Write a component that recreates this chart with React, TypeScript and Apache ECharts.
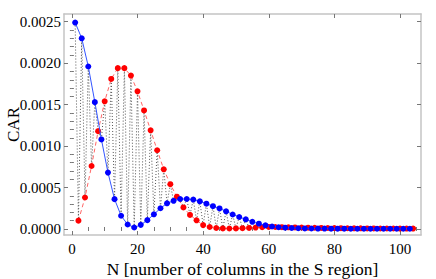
import React, { useEffect, useRef } from "react";
import * as echarts from "echarts";

const blueN = [1, 3, 5, 7, 9, 11, 13, 15, 17, 19, 21, 23, 25, 27, 29, 31, 33, 35, 37, 39, 41, 43, 45, 47, 49, 51, 53, 55, 57, 59, 61, 63, 65, 67, 69, 71, 73, 75, 77, 79, 81, 83, 85, 87, 89, 91, 93, 95, 97, 99, 101, 103];
const blueCAR = [
  0.00249, 0.0023, 0.00196, 0.00153, 0.00108, 0.00068, 0.00036, 0.00016, 0.000054, 0.000018,
  0.00005, 0.000107, 0.000177, 0.00025, 0.00031, 0.00034, 0.000362, 0.000362, 0.000355, 0.000334,
  0.000305, 0.000275, 0.000248, 0.000213, 0.000175, 0.000145, 0.000116, 0.000087, 0.000064, 0.000044,
  0.00003, 0.000021, 0.000016, 0.000012, 0.000009, 0.000007, 0.000006, 0.000005, 0.000005, 0.000004,
  0.000004, 0.000004, 0.000003, 0.000003, 0.000003, 0.000003, 0.000003, 0.000003, 0.000003, 0.000003,
  0.000003, 0.000003,
];
const redN = [2, 4, 6, 8, 10, 12, 14, 16, 18, 20, 22, 24, 26, 28, 30, 32, 34, 36, 38, 40, 42, 44, 46, 48, 50, 52, 54, 56, 58, 60, 62, 64, 66, 68, 70, 72, 74, 76, 78, 80, 82, 84, 86, 88, 90, 92, 94, 96, 98, 100, 102, 104];
const redCAR = [
  0.0001, 0.00038, 0.00076, 0.00118, 0.00154, 0.00181, 0.00194, 0.00194, 0.00185, 0.00166,
  0.00143, 0.00119, 0.00095, 0.00072, 0.00054, 0.00039, 0.00026, 0.00017, 0.000105, 0.000047,
  0.000024, 0.000012, 0.000007, 0.000006, 0.000007, 0.00001, 0.000013, 0.000017, 0.000021, 0.000025,
  0.000024, 0.000022, 0.00002, 0.000019, 0.000018, 0.000016, 0.000015, 0.000013, 0.000012, 0.000011,
  0.00001, 0.000009, 0.000008, 0.000008, 0.000007, 0.000007, 0.000006, 0.000006, 0.000006, 0.000005,
  0.000005, 0.000005,
];
const xMajor = [0, 20, 40, 60, 80, 100];
const xMinor = [5, 10, 15, 25, 30, 35, 45, 50, 55, 65, 70, 75, 85, 90, 95, 105];
const yMajor = [0, 0.0005, 0.001, 0.0015, 0.002, 0.0025];
const yMinor = [0.0001, 0.0002, 0.0003, 0.0004, 0.0006, 0.0007, 0.0008, 0.0009, 0.0011, 0.0012, 0.0013, 0.0014, 0.0016, 0.0017, 0.0018, 0.0019, 0.0021, 0.0022, 0.0023, 0.0024];
const xTitle = "N [number of columns in the S region]";
const yTitle = "CAR";

const FONT = "Liberation Serif";
const XMIN = -2.4, XMAX = 106.4, YMIN = -0.0000724, YMAX = 0.002593;

export default function App() {
  const ref = useRef<HTMLDivElement>(null);
  useEffect(() => {
    if (!ref.current) return;
    const chart = echarts.init(ref.current, null, { renderer: "svg" });
    const blue = blueN.map((n, i) => [n, blueCAR[i]]);
    const red = redN.map((n, i) => [n, redCAR[i]]);
    const all: number[][] = [];
    for (let i = 0; i < blue.length; i++) {
      all.push(blue[i]);
      if (red[i]) all.push(red[i]);
    }
    const rich = { t: { fontFamily: FONT, fontSize: 15, color: "#000" } };
    const frameLine = { show: true, onZero: false, lineStyle: { color: "#c4c4c4", width: 1.5 } };
    const mkX = (pos: string, vals: number[], len: number, labels: boolean, line: boolean, name?: string) => ({
      type: "value", min: XMIN, max: XMAX, position: pos,
      axisLine: line ? frameLine : { show: false },
      axisTick: { show: true, inside: true, length: len, customValues: vals, lineStyle: { color: "#777", width: 1 } },
      axisLabel: labels ? {
        show: true, customValues: vals, color: "#000", fontFamily: FONT, fontSize: 15, margin: 6,
        formatter: (v: number) => `{t|${String(v)}}`, rich,
      } : { show: false },
      splitLine: { show: false },
      name: name, nameLocation: "middle", nameGap: 25, nameMoveOverlap: false,
      nameTextStyle: { color: "#000", fontFamily: FONT, fontSize: 17.5 },
    });
    const mkY = (pos: string, vals: number[], len: number, labels: boolean, line: boolean, name?: string) => ({
      type: "value", min: YMIN, max: YMAX, position: pos,
      axisLine: line ? frameLine : { show: false },
      axisTick: { show: true, inside: true, length: len, customValues: vals, lineStyle: { color: "#777", width: 1 } },
      axisLabel: labels ? {
        show: true, customValues: vals, color: "#000", fontFamily: FONT, fontSize: 15, margin: 3,
        formatter: (v: number) => `{t|${v.toFixed(4)}}`, rich,
      } : { show: false },
      splitLine: { show: false },
      name: name, nameLocation: "middle", nameGap: 42, nameRotate: 90, nameMoveOverlap: false,
      nameTextStyle: { color: "#000", fontFamily: FONT, fontSize: 17 },
    });
    chart.setOption({
      animation: false,
      backgroundColor: "#fff",
      textStyle: { fontFamily: FONT },
      grid: { left: 64, top: 14, width: 357, height: 221, containLabel: false, outerBoundsMode: "none" },
      xAxis: [
        mkX("bottom", xMajor, 4, true, true, xTitle),
        mkX("bottom", xMinor, 2, false, false),
        mkX("top", xMajor, 4, false, true),
        mkX("top", xMinor, 2, false, false),
      ],
      yAxis: [
        mkY("left", yMajor, 4, true, true, yTitle),
        mkY("left", yMinor, 2, false, false),
        mkY("right", yMajor, 4, false, true),
        mkY("right", yMinor, 2, false, false),
      ],
      series: [
        {
          type: "line", data: all, xAxisIndex: 0, yAxisIndex: 0, showSymbol: false, symbol: "none",
          lineStyle: { color: "#555", width: 1, type: [1, 2] }, z: 1,
        },
        {
          type: "line", data: blue, xAxisIndex: 0, yAxisIndex: 0, symbol: "circle", symbolSize: 6,
          itemStyle: { color: "#0000ff" }, lineStyle: { color: "#3355ff", width: 1 }, z: 3,
        },
        {
          type: "line", data: red, xAxisIndex: 0, yAxisIndex: 0, symbol: "circle", symbolSize: 6,
          itemStyle: { color: "#ff0000" }, lineStyle: { color: "#ff6666", width: 1, type: [4, 3] }, z: 2,
        },
      ],
    });
    return () => chart.dispose();
  }, []);
  return <div ref={ref} style={{ width: 436, height: 279, position: "absolute", left: 0, top: 0 }} />;
}
